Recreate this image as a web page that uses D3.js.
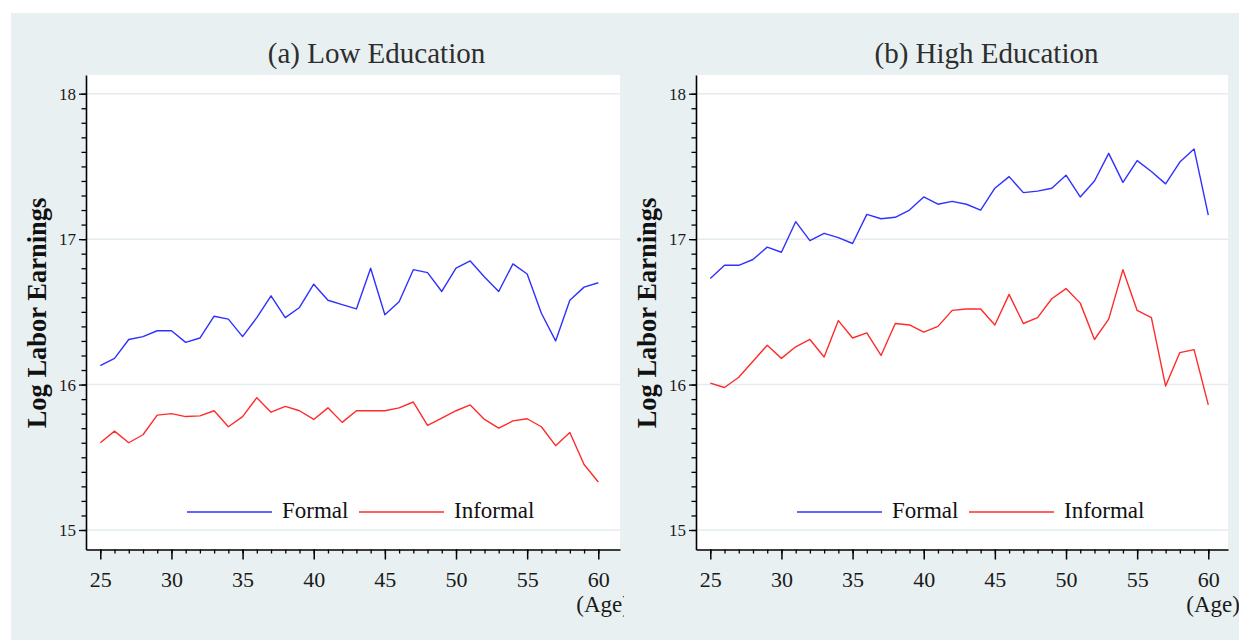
<!DOCTYPE html>
<html>
<head>
<meta charset="utf-8">
<script src="https://cdn.jsdelivr.net/npm/d3@7"></script>
<style>
  html, body { margin: 0; padding: 0; background: #fff; }
  svg { display: block; }
</style>
</head>
<body>
<div id="chart"></div>
<script>
// Age grid shared by both panels
const ages = d3.range(25, 61);

// (a) Low Education
const lowFormal = [
  16.13, 16.18, 16.31, 16.33, 16.37, 16.37, 16.29, 16.32, 16.47, 16.45,
  16.33, 16.46, 16.61, 16.46, 16.53, 16.69, 16.58, 16.55, 16.52, 16.80,
  16.48, 16.57, 16.79, 16.77, 16.64, 16.80, 16.85, 16.74, 16.64, 16.83,
  16.76, 16.49, 16.30, 16.58, 16.67, 16.70
];
const lowInformal = [
  15.60, 15.68, 15.60, 15.655, 15.79, 15.80, 15.78, 15.785, 15.82, 15.71,
  15.78, 15.91, 15.81, 15.85, 15.82, 15.76, 15.84, 15.74, 15.82, 15.82,
  15.82, 15.84, 15.88, 15.72, 15.77, 15.82, 15.86, 15.76, 15.70, 15.75,
  15.765, 15.71, 15.58, 15.67, 15.45, 15.33
];

// (b) High Education
const highFormal = [
  16.73, 16.82, 16.82, 16.86, 16.945, 16.91, 17.12, 16.99, 17.04, 17.01,
  16.97, 17.17, 17.14, 17.15, 17.20, 17.29, 17.24, 17.26, 17.24, 17.20,
  17.35, 17.43, 17.32, 17.33, 17.35, 17.44, 17.29, 17.40, 17.59, 17.39,
  17.54, 17.465, 17.38, 17.53, 17.62, 17.165
];
const highInformal = [
  16.01, 15.98, 16.05, 16.16, 16.27, 16.18, 16.26, 16.31, 16.19, 16.44,
  16.32, 16.355, 16.20, 16.42, 16.41, 16.36, 16.40, 16.51, 16.52, 16.52,
  16.41, 16.62, 16.42, 16.46, 16.59, 16.66, 16.56, 16.31, 16.45, 16.79,
  16.51, 16.46, 15.99, 16.22, 16.24, 15.86
];

const yMajorTicks = [15, 16, 17, 18];
const xMajorTicks = [25, 30, 35, 40, 45, 50, 55, 60];
const seriesNames = ['Formal', 'Informal'];

const panels = [
  { title: '(a) Low Education', formal: lowFormal, informal: lowInformal },
  { title: '(b) High Education', formal: highFormal, informal: highInformal }
];

const W = 1239, H = 640;
const colors = { Formal: '#3030ff', Informal: '#ff2b2b' };
const FONT = '"Liberation Serif", "Times New Roman", serif';

const svg = d3.select('#chart').append('svg')
  .attr('width', W)
  .attr('height', H);

// Outer light background
svg.append('rect')
  .attr('x', 11).attr('y', 13)
  .attr('width', W - 11).attr('height', H - 13)
  .attr('fill', '#e9f0f2');

// Clip for the left panel so "(Age)" is cut like the original
svg.append('defs').append('clipPath')
  .attr('id', 'clip-left')
  .append('rect')
  .attr('x', 0).attr('y', 0)
  .attr('width', 624).attr('height', H);

/**
 * Draw one panel with its axes, grid, lines and legend.
 */
function drawPanel(panel, axisX, plotRight, clipId) {
  const plotTop = 75, plotBottom = 549.5;

  const g = svg.append('g').attr('class', 'panel');
  if (clipId) g.attr('clip-path', `url(#${clipId})`);

  // y scale: 18 at 93.7, 15 at 530
  const y = d3.scaleLinear().domain([15, 18]).range([530, 93.7]);
  y.domain([y.invert(plotBottom), y.invert(plotTop)]).range([plotBottom, plotTop]);

  // x scale: 25 sits ~14px right of the axis, 60 about 498px further
  const x = d3.scaleLinear().domain([25, 60]).range([axisX + 14.3, axisX + 512.3]);
  x.domain([x.invert(axisX), x.invert(plotRight)]).range([axisX, plotRight]);

  // White plot area
  g.append('rect')
    .attr('x', axisX).attr('y', plotTop)
    .attr('width', plotRight - axisX).attr('height', plotBottom - plotTop)
    .attr('fill', '#fff');

  // Horizontal gridlines
  g.append('g').selectAll('line')
    .data(yMajorTicks)
    .enter().append('line')
    .attr('x1', axisX).attr('x2', plotRight)
    .attr('y1', d => y(d)).attr('y2', d => y(d))
    .attr('stroke', '#e3ecf0')
    .attr('stroke-width', 1.5);

  // Title
  g.append('text')
    .attr('x', axisX + 290.5)
    .attr('y', 63)
    .attr('text-anchor', 'middle')
    .style('font-family', FONT)
    .style('font-size', '29px')
    .style('fill', '#2e2e2e')
    .text(panel.title);

  // Y axis title
  g.append('text')
    .attr('transform', `translate(${axisX - 40},${313}) rotate(-90)`)
    .attr('text-anchor', 'middle')
    .style('font-family', FONT)
    .style('font-size', '26.5px')
    .style('font-weight', 'bold')
    .style('fill', '#111')
    .text('Log Labor Earnings');

  // Minor y ticks
  g.append('g')
    .attr('transform', `translate(${axisX},0)`)
    .call(d3.axisLeft(y).tickValues(d3.range(150, 181).map(v => v / 10))
      .tickSize(4.5).tickSizeOuter(0).tickFormat(''))
    .call(a => a.select('.domain').remove())
    .call(a => a.selectAll('line').attr('stroke-width', 1.3));

  // Major y ticks + domain
  const yAxis = g.append('g')
    .attr('transform', `translate(${axisX},0)`)
    .call(d3.axisLeft(y).tickValues(yMajorTicks)
      .tickSize(7).tickSizeOuter(0).tickPadding(3).tickFormat(d3.format('d')));
  yAxis.select('.domain').attr('stroke-width', 1.6);
  yAxis.selectAll('line').attr('stroke-width', 1.3);
  yAxis.selectAll('text')
    .style('font-family', FONT)
    .style('font-size', '17px')
    .style('fill', '#1a1a1a');

  // Minor x ticks
  g.append('g')
    .attr('transform', `translate(0,${plotBottom})`)
    .call(d3.axisBottom(x).tickValues(ages).tickSize(4).tickSizeOuter(0).tickFormat(''))
    .call(a => a.select('.domain').remove())
    .call(a => a.selectAll('line').attr('stroke-width', 1.3));

  // Major x ticks + domain
  const xAxis = g.append('g')
    .attr('transform', `translate(0,${plotBottom})`)
    .call(d3.axisBottom(x).tickValues(xMajorTicks)
      .tickSize(10).tickSizeOuter(0).tickPadding(12).tickFormat(d3.format('d')));
  xAxis.select('.domain').attr('stroke-width', 1.6);
  xAxis.selectAll('line').attr('stroke-width', 1.5);
  xAxis.selectAll('text')
    .style('font-family', FONT)
    .style('font-size', '22px')
    .style('fill', '#1a1a1a');

  // "(Age)" under the last tick
  g.append('text')
    .attr('x', x(60) - 22)
    .attr('y', 612)
    .style('font-family', FONT)
    .style('font-size', '23px')
    .style('fill', '#1a1a1a')
    .text('(Age)');

  // Series lines
  const line = d3.line()
    .x((d, i) => x(ages[i]))
    .y(d => y(d));

  [['Formal', panel.formal], ['Informal', panel.informal]].forEach(([name, vals]) => {
    g.append('path')
      .datum(vals)
      .attr('fill', 'none')
      .attr('stroke', colors[name])
      .attr('stroke-width', 1.4)
      .attr('stroke-linejoin', 'round')
      .attr('d', line);
  });

  // Legend
  const legend = g.append('g')
    .attr('transform', `translate(${axisX},512)`);
  const legendOffsets = [101, 273];
  seriesNames.forEach((name, i) => {
    const lx = legendOffsets[i];
    legend.append('line')
      .attr('x1', lx).attr('x2', lx + 85)
      .attr('y1', 0).attr('y2', 0)
      .attr('stroke', colors[name])
      .attr('stroke-width', 1.4);
    legend.append('text')
      .attr('x', lx + 95)
      .attr('y', 6)
      .style('font-family', FONT)
      .style('font-size', '23px')
      .style('fill', '#111')
      .text(name);
  });
}

drawPanel(panels[0], 86, 620, 'clip-left');
drawPanel(panels[1], 696, 1228, null);
</script>
</body>
</html>
